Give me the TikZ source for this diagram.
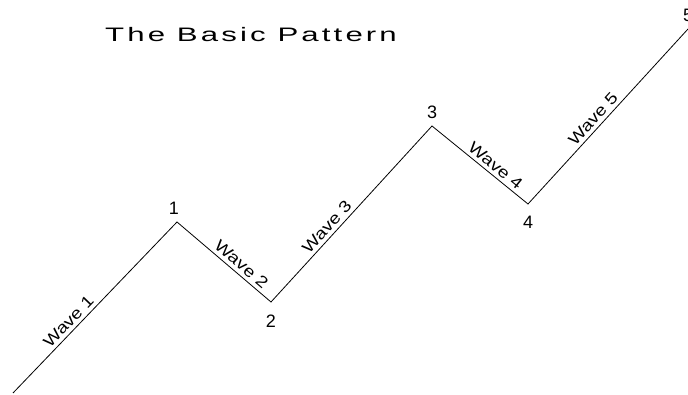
\documentclass[tikz,border=0pt]{standalone}
\usepackage{fontspec}
\setmainfont{Liberation Sans}
\newfontfamily\titlefont[FakeStretch=1.6,LetterSpace=16]{Liberation Sans}
\newfontfamily\wavefont[FakeStretch=1.2]{Liberation Sans}
\begin{document}
\begin{tikzpicture}[x=1pt,y=1pt,
  wave/.style={line width=0.8pt,line join=miter},
  wavelabel/.style={sloped,above,inner sep=3.5pt,font=\wavefont\fontsize{16}{16}\selectfont},
  peaklabel/.style={inner sep=0pt,font=\fontsize{18}{18}\selectfont}]
\useasboundingbox (0,0) rectangle (688,395);

\node[anchor=base west,inner sep=0pt,font=\titlefont\fontsize{19.5}{20}\selectfont] (title) at (105,353) {The Basic Pattern};

\coordinate (p0) at (13,2);
\coordinate (p1) at (177,173);
\coordinate (p2) at (271,93);
\coordinate (p3) at (432,269);
\coordinate (p4) at (528,191);
\coordinate (p5) at (688,366);

\draw[wave] (p0) -- node[wavelabel,pos=0.38] (w1) {Wave 1}
  (p1) -- node[wavelabel,pos=0.62] (w2) {Wave 2}
  (p2) -- node[wavelabel,pos=0.39] (w3) {Wave 3}
  (p3) -- node[wavelabel,pos=0.60] (w4) {Wave 4}
  (p4) -- node[wavelabel,pos=0.45] (w5) {Wave 5} (p5);

\node[peaklabel] (n1) at (174,187) {1};
\node[peaklabel] (n2) at (271,74) {2};
\node[peaklabel] (n3) at (432,283) {3};
\node[peaklabel] (n4) at (528,173) {4};
\node[peaklabel] (n5) at (688,380) {5};
\end{tikzpicture}
\end{document}
